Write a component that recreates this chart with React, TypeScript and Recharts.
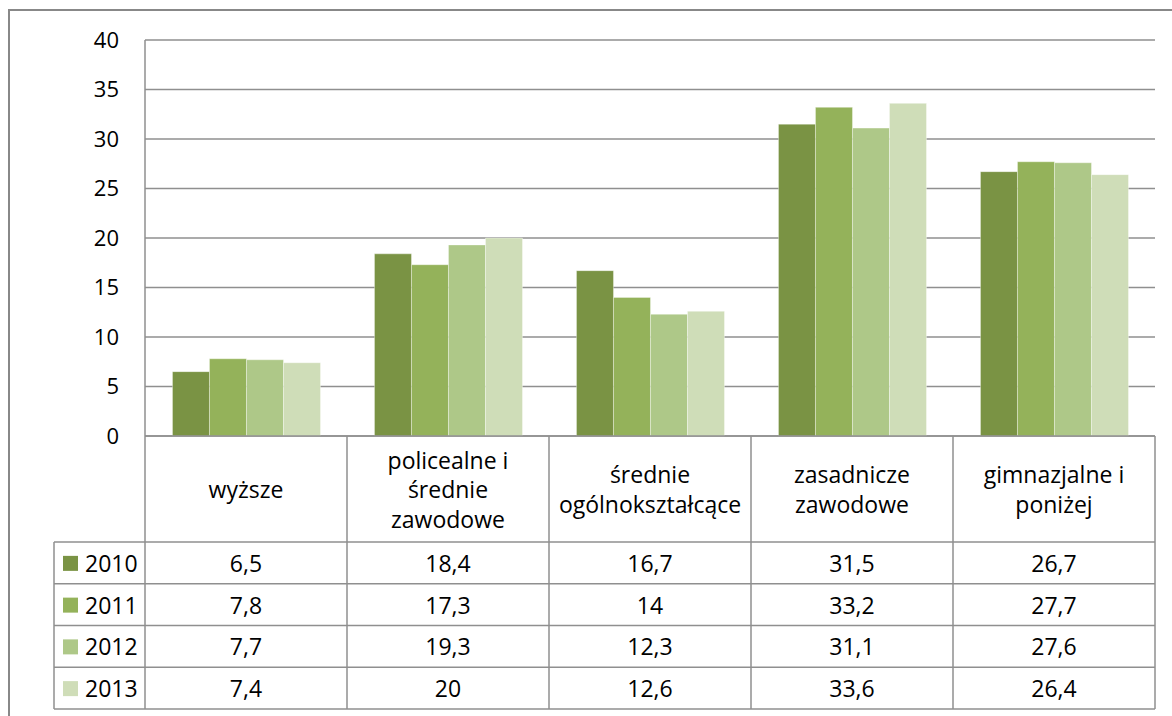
import React from "react";
import { BarChart, Bar, XAxis, YAxis, CartesianGrid } from "recharts";

const categories = [
  ["wyższe"],
  ["policealne i", "średnie", "zawodowe"],
  ["średnie", "ogólnokształcące"],
  ["zasadnicze", "zawodowe"],
  ["gimnazjalne i", "poniżej"],
];
const years = ["2010", "2011", "2012", "2013"];
const v2010 = [6.5, 18.4, 16.7, 31.5, 26.7];
const v2011 = [7.8, 17.3, 14, 33.2, 27.7];
const v2012 = [7.7, 19.3, 12.3, 31.1, 27.6];
const v2013 = [7.4, 20, 12.6, 33.6, 26.4];
const yTicks = [0, 5, 10, 15, 20, 25, 30, 35, 40];

const colors = ["#7a9344", "#94b25a", "#aec888", "#cfddb8"];
const series = [v2010, v2011, v2012, v2013];

const data = categories.map((c, i) => ({
  name: c.join(" "),
  y2010: v2010[i],
  y2011: v2011[i],
  y2012: v2012[i],
  y2013: v2013[i],
}));

const W = 1172;
const H = 716;
const FONT = "'Open Sans', sans-serif";
const FS = 23;
const LINE = "#8f8f8f";
const PLOT_LEFT = 145;
const PLOT_RIGHT = 1155;
const HEADER_H = 106;
const ROW_H = 41.75;
const LEGEND_LEFT = 54;
const band = (PLOT_RIGHT - PLOT_LEFT) / categories.length;

const fmt = (v: number) => String(v).replace(".", ",");

function TableTick(props: any) {
  const { x, y, payload } = props;
  const i = payload.index;
  const left = x - band / 2;
  const right = x + band / 2;
  const bottom = y + HEADER_H + ROW_H * years.length;
  const lines = categories[i];
  const lh = 29.5;
  const midHeader = y + HEADER_H / 2;
  return (
    <g>
      {lines.map((t, k) => (
        <text
          key={k}
          x={x}
          y={midHeader + (k - (lines.length - 1) / 2) * lh}
          textAnchor="middle"
          dominantBaseline="central"
          fontFamily={FONT}
          fontSize={FS}
          fill="#000"
        >
          {t}
        </text>
      ))}
      {years.map((yr, r) => (
        <text
          key={yr}
          x={x}
          y={y + HEADER_H + ROW_H * r + ROW_H / 2}
          textAnchor="middle"
          dominantBaseline="central"
          fontFamily={FONT}
          fontSize={FS}
          fill="#000"
        >
          {fmt(series[r][i])}
        </text>
      ))}
      <line x1={right} y1={y} x2={right} y2={bottom} stroke={LINE} strokeWidth={1.5} />
      {years.map((yr, r) => (
        <line
          key={yr}
          x1={i === 0 ? LEGEND_LEFT : left}
          y1={y + HEADER_H + ROW_H * r}
          x2={right}
          y2={y + HEADER_H + ROW_H * r}
          stroke={LINE}
          strokeWidth={1.5}
        />
      ))}
      <line
        x1={i === 0 ? LEGEND_LEFT : left}
        y1={bottom}
        x2={right}
        y2={bottom}
        stroke={LINE}
        strokeWidth={1.5}
      />
      {i === 0 && (
        <g>
          <line x1={left} y1={y} x2={left} y2={bottom} stroke={LINE} strokeWidth={1.5} />
          <line
            x1={LEGEND_LEFT}
            y1={y + HEADER_H}
            x2={LEGEND_LEFT}
            y2={bottom}
            stroke={LINE}
            strokeWidth={1.5}
          />
          {years.map((yr, r) => {
            const cy = y + HEADER_H + ROW_H * r + ROW_H / 2;
            return (
              <g key={yr}>
                <rect x={63} y={cy - 7} width={15} height={15} fill={colors[r]} />
                <text
                  x={85}
                  y={cy}
                  dominantBaseline="central"
                  fontFamily={FONT}
                  fontSize={FS}
                  fill="#000"
                >
                  {yr}
                </text>
              </g>
            );
          })}
        </g>
      )}
    </g>
  );
}

export default function App() {
  return (
    <div style={{ position: "absolute", left: 0, top: 0, width: W, height: H, background: "#fff", overflow: "hidden" }}>
      <div
        style={{
          position: "absolute",
          left: 8,
          top: 9,
          width: W,
          height: H,
          borderTop: "2px solid #888",
          borderLeft: "2px solid #888",
        }}
      />
      <div style={{ position: "absolute", left: 0, top: 0 }}>
        <BarChart
          width={W}
          height={H}
          data={data}
          margin={{ top: 40, right: W - PLOT_RIGHT, left: PLOT_LEFT - 60, bottom: 7 }}
          barCategoryGap="13.6%"
          barGap={0}
        >
          <CartesianGrid vertical={false} stroke={LINE} strokeWidth={1.5} />
          <XAxis
            dataKey="name"
            height={273}
            interval={0}
            tickLine={false}
            tickSize={0}
            tickMargin={0}
            axisLine={{ stroke: LINE, strokeWidth: 1.5 }}
            tick={<TableTick />}
          />
          <YAxis
            width={60}
            domain={[0, 40]}
            ticks={yTicks}
            interval={0}
            tickLine={false}
            tickSize={0}
            tickMargin={26}
            axisLine={{ stroke: LINE, strokeWidth: 1.5 }}
            tick={{ fontFamily: FONT, fontSize: 22, fill: "#000" }}
          />
          {years.map((yr, r) => (
            <Bar
              key={yr}
              dataKey={"y" + yr}
              fill={colors[r]}
              stroke="#ffffff"
              strokeOpacity={0.35}
              strokeWidth={1}
              isAnimationActive={false}
            />
          ))}
        </BarChart>
      </div>
    </div>
  );
}
